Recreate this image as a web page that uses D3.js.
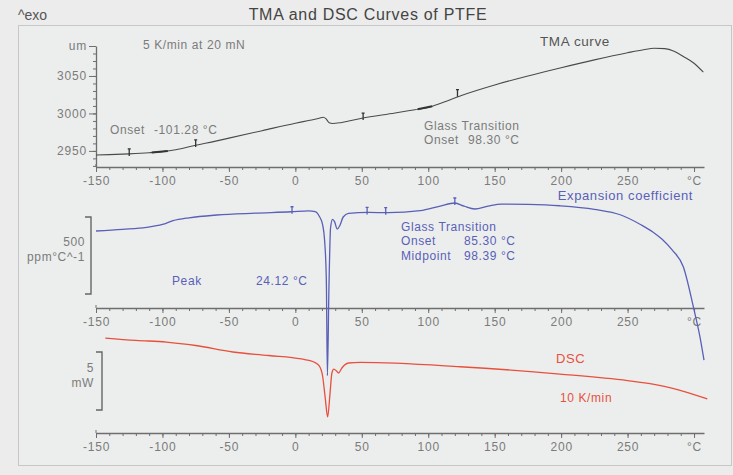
<!DOCTYPE html>
<html>
<head>
<meta charset="utf-8">
<script src="https://cdn.jsdelivr.net/npm/d3@7/dist/d3.min.js"></script>
<style>
  body { margin: 0; background: #ebeceb; }
  svg { display: block; font-family: "Liberation Sans", Arial, sans-serif; }
</style>
</head>
<body>
<svg id="chart" width="733" height="475"></svg>
<script>
// temperature axis shared by the three panels
const xTicks = [-150, -100, -50, 0, 50, 100, 150, 200, 250, 300];
const xUnitTick = 300; // labelled with the unit instead of the number

// TMA curve: sample length (um)
const tmaTemp = [-150, -140, -125, -110, -100, -90, -75, -60, -50, -25, 0, 10, 18, 21, 23, 25.5, 28, 35, 50, 75, 90, 100, 110, 125, 150, 175, 200, 225, 250, 262, 270, 278, 285, 292, 300, 307];
const tmaLen = [2944.5, 2945, 2946, 2947.5, 2949, 2951.5, 2957.5, 2963, 2967, 2977, 2987, 2990.5, 2993.5, 2995, 2993, 2987.5, 2986.5, 2988, 2993.5, 3000.5, 3005, 3008, 3014, 3024, 3038, 3050, 3061, 3071.5, 3081, 3085, 3087, 3086.5, 3083, 3076, 3067, 3055];
const tmaTicks = [2950, 3000, 3050];
const tmaTop = 3090;
const tmaMarkTemp = [-125, -75, 51, 122];
const tmaMarkLen = [2946, 2958, 2993.8, 3025];
const tmaLimits = [[-108, 2947.7, -96, 2950], [92, 3005.5, 103, 3009.5]];

// expansion coefficient (ppm/°C, relative to the scale bar)
const expTemp = [-150, -130, -112, -100, -92, -80, -59, -30, -3, 10, 15, 18, 20.5, 22, 23.3, 24.12, 25.3, 26.5, 28, 29.5, 31.5, 33.5, 36, 40, 55, 70, 94, 109, 120, 127, 135, 145, 155, 175, 199, 225, 245, 260, 269, 276, 283.5, 292, 299.5, 304.5, 307.5];
const expCoef = [409, 420, 433, 452, 476, 495, 513, 525, 534, 540, 535, 505, 450, 350, 100, -530, 50, 430, 485, 470, 422, 445, 500, 524, 530, 528, 541, 571, 591, 570, 552, 570, 584, 582, 573, 550, 513, 450, 403, 355, 286, 175, -84, -280, -430];
const expScale = 500;
const expMarkTemp = [-2.5, 54, 68, 120];
const expMarkCoef = [534, 530, 528, 591];

// DSC curve: heat flow (mW, relative to the scale bar)
const dscTemp = [-143, -120, -97, -75, -47, -20, 4.5, 14, 18, 20.5, 22.5, 24.3, 26, 27.5, 29, 31, 32.5, 35, 40, 49, 124, 199, 250, 270, 284, 310];
const dscFlow = [6.2, 6.0, 5.86, 5.56, 5.0, 4.7, 4.4, 4.14, 3.8, 2.93, 1.03, -0.6, 1.29, 3.19, 3.53, 3.36, 3.19, 3.62, 4.05, 4.1, 3.73, 3.1, 2.53, 2.2, 1.87, 0.95];
const dscScale = 5;

const grey = '#7b7b7b';
const axisColor = '#6e6e6e';
const blue = '#5a5fb8';
const red = '#e8503e';

const svg = d3.select('#chart');

const x = d3.scaleLinear().domain([-150, 307.5]).range([96, 704]);
const yTma = d3.scaleLinear().domain([2928.5, tmaTop]).range([167, 46]);
const yExp = d3.scaleLinear().domain([0, expScale]).range([294, 217]);
const yDsc = d3.scaleLinear().domain([0, dscScale]).range([410, 352]);

// frame and header
svg.append('rect')
  .attr('x', 18.5).attr('y', 25.5)
  .attr('width', 713).attr('height', 440)
  .attr('fill', '#eceeed')
  .attr('stroke', '#c6c7c6');

svg.append('text')
  .attr('x', 18).attr('y', 20)
  .attr('fill', '#555')
  .style('font-size', '14px')
  .text('^exo');

svg.append('text')
  .attr('x', 368).attr('y', 20)
  .attr('text-anchor', 'middle')
  .attr('fill', '#444')
  .style('font-size', '16px')
  .style('letter-spacing', '0.7px')
  .text('TMA and DSC Curves of PTFE');

function drawTempAxis(yPos) {
  const minor = d3.axisBottom(x)
    .tickValues(d3.range(-150, 301, 10))
    .tickSize(3)
    .tickSizeOuter(0)
    .tickFormat('');
  const major = d3.axisBottom(x)
    .tickValues(xTicks)
    .tickSize(5)
    .tickSizeOuter(0)
    .tickPadding(4)
    .tickFormat(d => d === xUnitTick ? '°C' : d);

  const gMinor = svg.append('g').attr('transform', `translate(0,${yPos})`).call(minor);
  const gMajor = svg.append('g').attr('transform', `translate(0,${yPos})`).call(major);
  gMajor.select('.domain').remove();
  [gMinor, gMajor].forEach(g => {
    g.select('.domain').attr('stroke', axisColor).attr('stroke-width', 1.3);
    g.selectAll('line').attr('stroke', axisColor);
  });
  gMajor.selectAll('text')
    .attr('fill', grey)
    .style('font-size', '12px')
    .style('letter-spacing', '0.8px')
    .style('font-family', '"Liberation Sans", Arial, sans-serif');
  // small upright tick at the start of the scale
  svg.append('line')
    .attr('x1', x(-150)).attr('x2', x(-150))
    .attr('y1', yPos - 3).attr('y2', yPos)
    .attr('stroke', axisColor);
}

function drawBracket(yScale, span, xPos) {
  svg.append('path')
    .attr('d', `M${xPos - 6},${yScale(span)} H${xPos} V${yScale(0)} H${xPos - 6}`)
    .attr('fill', 'none')
    .attr('stroke', '#666')
    .attr('stroke-width', 1.4);
}

function label(xPos, yPos, txt, color, size, anchor) {
  return svg.append('text')
    .attr('x', xPos).attr('y', yPos)
    .attr('fill', color)
    .attr('text-anchor', anchor || 'start')
    .style('font-size', (size || 12) + 'px')
    .style('letter-spacing', '0.6px')
    .text(txt);
}

function drawMarks(temps, vals, yScale, color) {
  svg.append('g').selectAll('path')
    .data(temps)
    .enter()
    .append('path')
    .attr('d', (d, i) => {
      const px = x(d), py = yScale(vals[i]);
      return `M${px},${py - 5} V${py + 2} M${px - 1.5},${py - 5} H${px + 1.5}`;
    })
    .attr('stroke', color)
    .attr('stroke-width', 1.3)
    .attr('fill', 'none');
}

// ---------- TMA panel ----------
const yAxisMinor = d3.axisLeft(yTma)
  .tickValues(d3.range(2930, tmaTop, 10))
  .tickSize(3)
  .tickSizeOuter(0)
  .tickFormat('');
const yAxisMajor = d3.axisLeft(yTma)
  .tickValues(tmaTicks.concat([tmaTop]))
  .tickSize(7)
  .tickSizeOuter(0)
  .tickPadding(2)
  .tickFormat(d => d === tmaTop ? 'um' : d);

const gyMinor = svg.append('g').attr('transform', 'translate(96,0)').call(yAxisMinor);
const gyMajor = svg.append('g').attr('transform', 'translate(96,0)').call(yAxisMajor);
gyMajor.select('.domain').remove();
gyMinor.select('.domain').attr('stroke', axisColor).attr('stroke-width', 1.3);
svg.selectAll('g line').attr('stroke', axisColor);
gyMajor.selectAll('text')
  .attr('fill', grey)
  .style('font-size', '12px')
  .style('letter-spacing', '0.8px')
  .style('font-family', '"Liberation Sans", Arial, sans-serif');

drawTempAxis(167);

const tmaLine = d3.line()
  .x(i => x(tmaTemp[i]))
  .y(i => yTma(tmaLen[i]))
  .curve(d3.curveMonotoneX);

svg.append('path')
  .attr('d', tmaLine(d3.range(tmaTemp.length)))
  .attr('fill', 'none')
  .attr('stroke', '#4a4a4a')
  .attr('stroke-width', 1.1);

svg.append('g').selectAll('line')
  .data(tmaLimits)
  .enter()
  .append('line')
  .attr('x1', d => x(d[0])).attr('y1', d => yTma(d[1]))
  .attr('x2', d => x(d[2])).attr('y2', d => yTma(d[3]))
  .attr('stroke', '#333')
  .attr('stroke-width', 2);

drawMarks(tmaMarkTemp, tmaMarkLen, yTma, '#333');

label(143, 49, '5 K/min at 20 mN', grey, 12);
label(540, 46, 'TMA curve', '#555', 13.5);
label(110, 134, 'Onset', grey, 12);
label(154, 134, '-101.28 °C', grey, 12);
label(424, 130, 'Glass Transition', grey, 12);
label(424, 144, 'Onset', grey, 12);
label(468, 144, '98.30 °C', grey, 12);

// ---------- expansion coefficient panel ----------
drawTempAxis(308);
drawBracket(yExp, expScale, 91);
label(85, 246, String(expScale), grey, 12, 'end');
label(85, 261, 'ppm°C^-1', grey, 12, 'end');

const expLine = d3.line()
  .x(i => x(expTemp[i]))
  .y(i => yExp(expCoef[i]))
  .curve(d3.curveMonotoneX);

svg.append('path')
  .attr('d', expLine(d3.range(expTemp.length)))
  .attr('fill', 'none')
  .attr('stroke', blue)
  .attr('stroke-width', 1.3);

drawMarks(expMarkTemp, expMarkCoef, yExp, blue);

label(693, 200, 'Expansion coefficient', blue, 13, 'end');
label(401, 231, 'Glass Transition', blue, 12);
label(401, 245, 'Onset', blue, 12);
label(464, 245, '85.30 °C', blue, 12);
label(401, 260, 'Midpoint', blue, 12);
label(464, 260, '98.39 °C', blue, 12);
label(172, 285, 'Peak', blue, 12);
label(256, 285, '24.12 °C', blue, 12);

// ---------- DSC panel ----------
drawTempAxis(433);
drawBracket(yDsc, dscScale, 102);
label(94, 372, String(dscScale), grey, 12, 'end');
label(94, 387, 'mW', grey, 12, 'end');

const dscLine = d3.line()
  .x(i => x(dscTemp[i]))
  .y(i => yDsc(dscFlow[i]))
  .curve(d3.curveMonotoneX);

svg.append('path')
  .attr('d', dscLine(d3.range(dscTemp.length)))
  .attr('fill', 'none')
  .attr('stroke', red)
  .attr('stroke-width', 1.3);

label(556, 363, 'DSC', red, 13);
label(560, 402, '10 K/min', red, 12);
</script>
</body>
</html>
